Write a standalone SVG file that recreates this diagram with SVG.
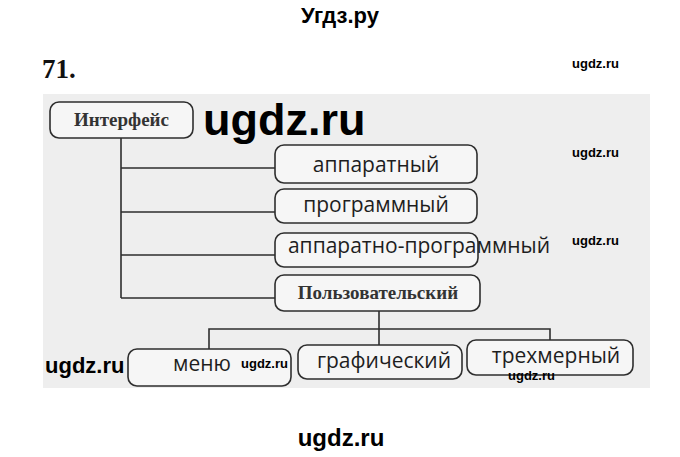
<svg xmlns="http://www.w3.org/2000/svg" width="680" height="457" viewBox="0 0 680 457">
<defs>
<style>
.box{fill:#f6f6f6;stroke:#2e2e2e;stroke-width:1.6}
.ln{fill:none;stroke:#2e2e2e;stroke-width:1.6}
.sans{font-family:"Open Sans","Noto Sans","DejaVu Sans",sans-serif;font-size:21px;fill:#1e1e1e;text-anchor:middle}
.serif{font-family:"Liberation Serif","Times New Roman",serif;font-weight:bold;font-size:19px;fill:#333;text-anchor:middle}
.wm{font-family:"Liberation Sans",Arial,sans-serif;font-weight:bold;fill:#000}
</style>
</defs>
<rect width="680" height="457" fill="#fff"/>
<rect x="43" y="94" width="607" height="294" fill="#eeeeee"/>

<text class="wm" x="340" y="23" font-size="22" text-anchor="middle">Угдз.ру</text>
<text x="42" y="78" font-family="Liberation Serif,serif" font-weight="bold" font-size="27" fill="#111">71.</text>

<g id="connectors">
<path class="ln" d="M121 138 V298 M121 168 H275 M121 212 H275 M121 255 H275 M121 298 H275"/>
<path class="ln" d="M379 311 V345 M209 349 V329 H550 V340"/>
</g>

<g id="n-interface"><rect class="box" x="50" y="102" width="143" height="36" rx="9"/><text class="serif" x="121.5" y="126">Интерфейс</text></g>
<g id="n-hw"><rect class="box" x="275" y="145" width="202" height="38" rx="9"/><text class="sans" x="376" y="172">аппаратный</text></g>
<g id="n-sw"><rect class="box" x="275" y="189" width="202" height="34" rx="9"/><text class="sans" x="376" y="212">программный</text></g>
<g id="n-hwsw"><rect class="box" x="275" y="233" width="203" height="34" rx="9"/><text class="sans" x="419" y="253">аппаратно-программный</text></g>
<g id="n-user"><rect class="box" x="275" y="275" width="205" height="36" rx="9"/><text class="serif" x="378" y="299">Пользовательский</text></g>
<g id="n-menu"><rect class="box" x="128" y="349" width="163" height="37" rx="9"/><text class="sans" x="202" y="371">меню</text></g>
<g id="n-graph"><rect class="box" x="298" y="345" width="164" height="34" rx="9"/><text class="sans" x="384" y="368">графический</text></g>
<g id="n-3d"><rect class="box" x="467" y="340" width="166" height="35" rx="9"/><text class="sans" x="556" y="363">трехмерный</text></g>

<g id="watermarks">
<text class="wm" x="203" y="135" font-size="45">ugdz.ru</text>
<text class="wm" x="572" y="68" font-size="13">ugdz.ru</text>
<text class="wm" x="572" y="157" font-size="13">ugdz.ru</text>
<text class="wm" x="572" y="245" font-size="13">ugdz.ru</text>
<text class="wm" x="241" y="368" font-size="13">ugdz.ru</text>
<text class="wm" x="508" y="380" font-size="13">ugdz.ru</text>
<text class="wm" x="45" y="373" font-size="22">ugdz.ru</text>
<text class="wm" x="341" y="446" font-size="24" text-anchor="middle">ugdz.ru</text>
</g>
</svg>
